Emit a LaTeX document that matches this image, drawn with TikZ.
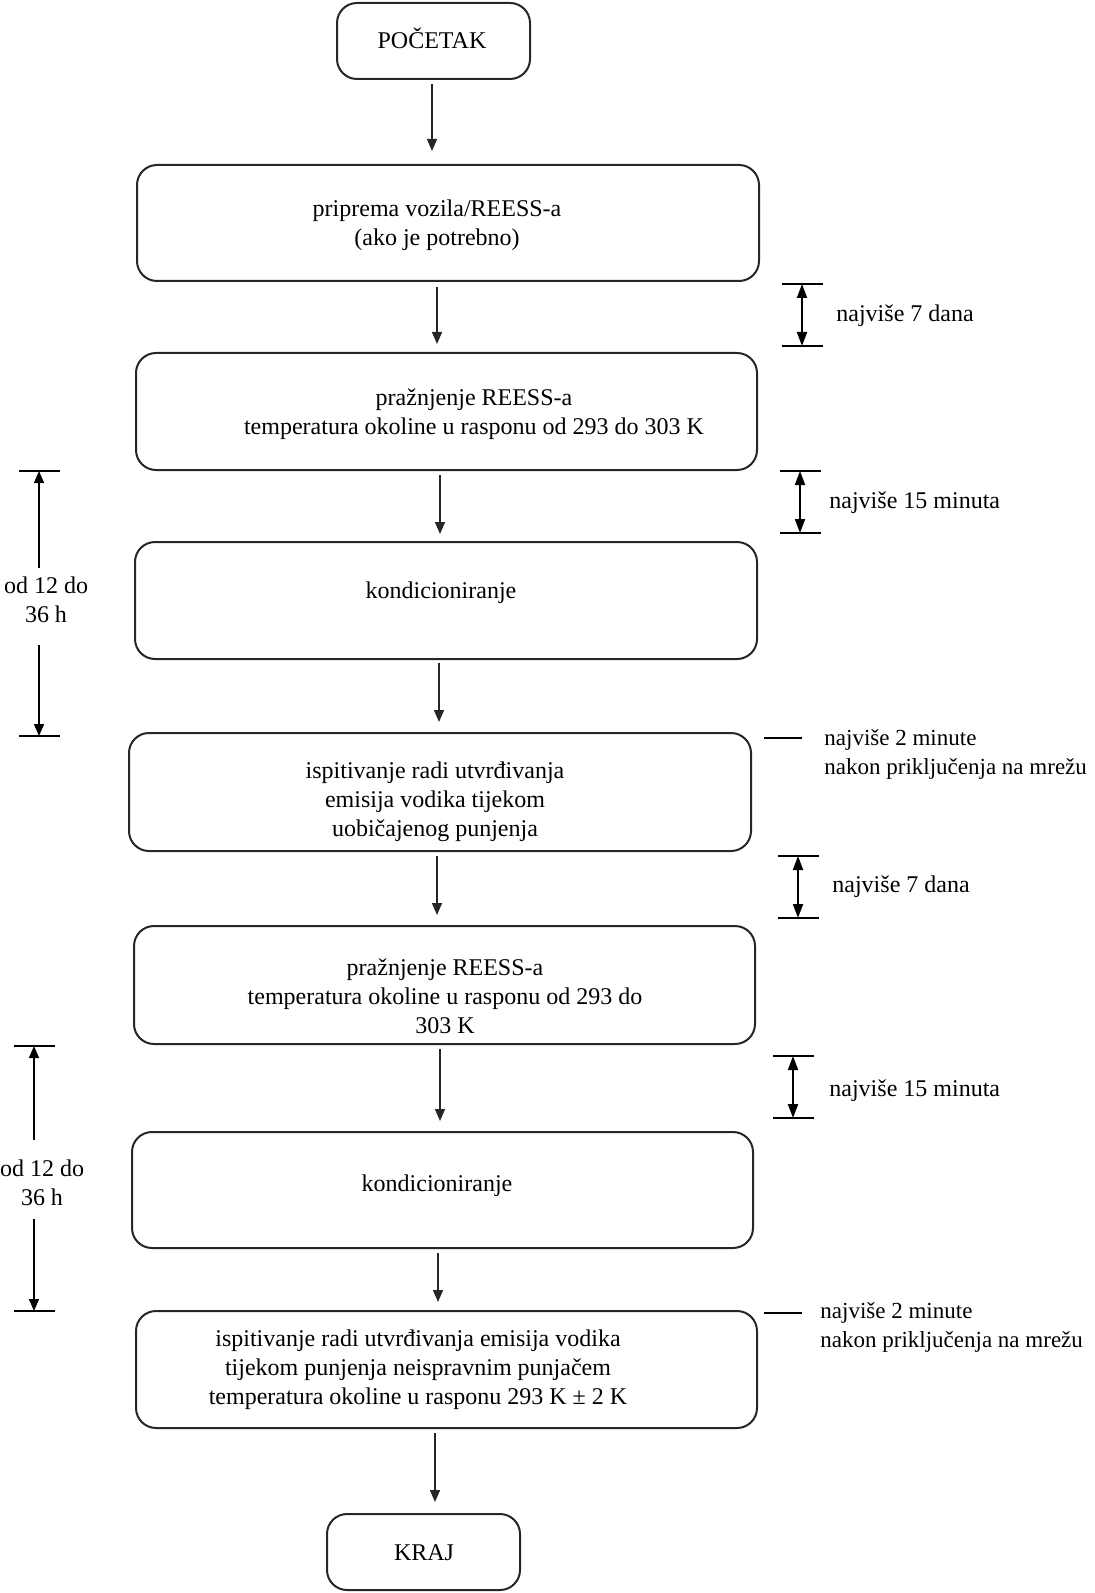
\documentclass[tikz,border=0pt]{standalone}
\usepackage{fontspec}
\setmainfont{Liberation Serif}
\usetikzlibrary{arrows.meta,calc}
\begin{document}
\begin{tikzpicture}[x=0.5pt,y=-0.5pt,
  box/.style={draw=black!85,line width=1pt,rounded corners=10pt,inner sep=0pt},
  txt/.style={align=center,inner sep=0pt,font=\fontsize{12}{14.5}\selectfont},
  side/.style={align=left,inner sep=0pt,anchor=west,font=\fontsize{12}{14.5}\selectfont},
  sidesm/.style={side,font=\fontsize{11.5}{14.5}\selectfont},
  arr/.style={draw=black!85,line width=0.7pt,-{Triangle[width=5pt,length=6pt]}},
  dim/.style={line width=1pt,{Triangle[width=5pt,length=7pt]}-{Triangle[width=5pt,length=7pt]}},
  tick/.style={line width=1pt},
  half/.style={line width=0.7pt,-{Triangle[width=5pt,length=6pt]}}]
\useasboundingbox (0,0) rectangle (1094,1593);
% boxes
\node[box,minimum width=96.5pt,minimum height=38pt] (b1) at (433.5,41) {};
\node[box,minimum width=311pt,minimum height=58pt] (b2) at (448,223) {};
\node[box,minimum width=310.5pt,minimum height=58.5pt] (b3) at (446.5,411.5) {};
\node[box,minimum width=311pt,minimum height=58.5pt] (b4) at (446,600.5) {};
\node[box,minimum width=311pt,minimum height=59pt] (b5) at (440,792) {};
\node[box,minimum width=310.5pt,minimum height=59pt] (b6) at (444.5,985) {};
\node[box,minimum width=310.5pt,minimum height=58pt] (b7) at (442.5,1190) {};
\node[box,minimum width=310.5pt,minimum height=58.5pt] (b8) at (446.5,1369.5) {};
\node[box,minimum width=96.5pt,minimum height=38pt] (b9) at (423.5,1552) {};
% texts
\node[txt] (t1) at (432,38) {POČETAK};
\node[txt] (t2) at (437,225) {priprema vozila/REESS-a\\(ako je potrebno)};
\node[txt] (t3) at (474,414) {pražnjenje REESS-a\\temperatura okoline u rasponu od 293 do 303 K};
\node[txt] (t4) at (441,593) {kondicioniranje};
\node[txt] (t5) at (435,802) {ispitivanje radi utvrđivanja\\emisija vodika tijekom\\uobičajenog punjenja};
\node[txt] (t6) at (445,996) {pražnjenje REESS-a\\temperatura okoline u rasponu od 293 do\\303 K};
\node[txt] (t7) at (437,1186) {kondicioniranje};
\node[txt] (t8) at (418,1370) {ispitivanje radi utvrđivanja emisija vodika\\tijekom punjenja neispravnim punjačem\\temperatura okoline u rasponu 293 K ± 2 K};
\node[txt] (t9) at (424,1553) {KRAJ};
% flow arrows
\draw[arr] ($(b1.south)+(-1.5,4)$) -- ($(b2.north)+(-16,-13)$);
\draw[arr] ($(b2.south)+(-11,5)$) -- ($(b3.north)+(-9.5,-8)$);
\draw[arr] ($(b3.south)+(-6.5,4)$) -- ($(b4.north)+(-6,-7)$);
\draw[arr] ($(b4.south)+(-7,3)$) -- ($(b5.north)+(-1,-10)$);
\draw[arr] ($(b5.south)+(-3,4)$) -- ($(b6.north)+(-7.5,-10)$);
\draw[arr] ($(b6.south)+(-4.5,4)$) -- ($(b7.north)+(-2.5,-10)$);
\draw[arr] ($(b7.south)+(-4.5,4)$) -- ($(b8.north)+(-8.5,-8)$);
\draw[arr] ($(b8.south)+(-11.5,4)$) -- ($(b9.north)+(11.5,-11)$);
% right dimension arrows
\coordinate (r1t) at (802,284); \coordinate (r1b) at (802,346);
\draw[tick] (r1t) ++(-20,0) -- ++(41,0); \draw[tick] (r1b) ++(-20,0) -- ++(41,0);
\draw[dim] (r1t) -- (r1b);
\node[side] (s1) at (836,316) {najviše 7 dana};
\coordinate (r2t) at (800,471); \coordinate (r2b) at (800,533);
\draw[tick] (r2t) ++(-20,0) -- ++(41,0); \draw[tick] (r2b) ++(-20,0) -- ++(41,0);
\draw[dim] (r2t) -- (r2b);
\node[side] (s2) at (829,503) {najviše 15 minuta};
\coordinate (d1a) at (764,738); \coordinate (d1b) at (802,738);
\draw[tick] (d1a) -- (d1b);
\node[sidesm] (s3) at (824,754) {najviše 2 minute\\nakon priključenja na mrežu};
\coordinate (r3t) at (798,856); \coordinate (r3b) at (798,918);
\draw[tick] (r3t) ++(-20,0) -- ++(41,0); \draw[tick] (r3b) ++(-20,0) -- ++(41,0);
\draw[dim] (r3t) -- (r3b);
\node[side] (s4) at (832,887) {najviše 7 dana};
\coordinate (r4t) at (793,1056); \coordinate (r4b) at (793,1118);
\draw[tick] (r4t) ++(-20,0) -- ++(41,0); \draw[tick] (r4b) ++(-20,0) -- ++(41,0);
\draw[dim] (r4t) -- (r4b);
\node[side] (s5) at (829,1091) {najviše 15 minuta};
\coordinate (d2a) at (764,1313); \coordinate (d2b) at (802,1313);
\draw[tick] (d2a) -- (d2b);
\node[sidesm] (s6) at (820,1327) {najviše 2 minute\\nakon priključenja na mrežu};
% left dimension arrows
\coordinate (l1t) at (39,471); \coordinate (l1b) at (39,736);
\draw[tick] (l1t) ++(-20,0) -- ++(41,0); \draw[tick] (l1b) ++(-20,0) -- ++(41,0);
\node[txt] (lt1) at (46,600) {od 12 do\\36 h};
\draw[half] (39,568) -- (l1t);
\draw[half] (39,645) -- (l1b);
\coordinate (l2t) at (34,1046); \coordinate (l2b) at (34,1311);
\draw[tick] (l2t) ++(-20,0) -- ++(41,0); \draw[tick] (l2b) ++(-20,0) -- ++(41,0);
\node[txt] (lt2) at (42,1183) {od 12 do\\36 h};
\draw[half] (34,1140) -- (l2t);
\draw[half] (34,1219) -- (l2b);
\end{tikzpicture}
\end{document}
